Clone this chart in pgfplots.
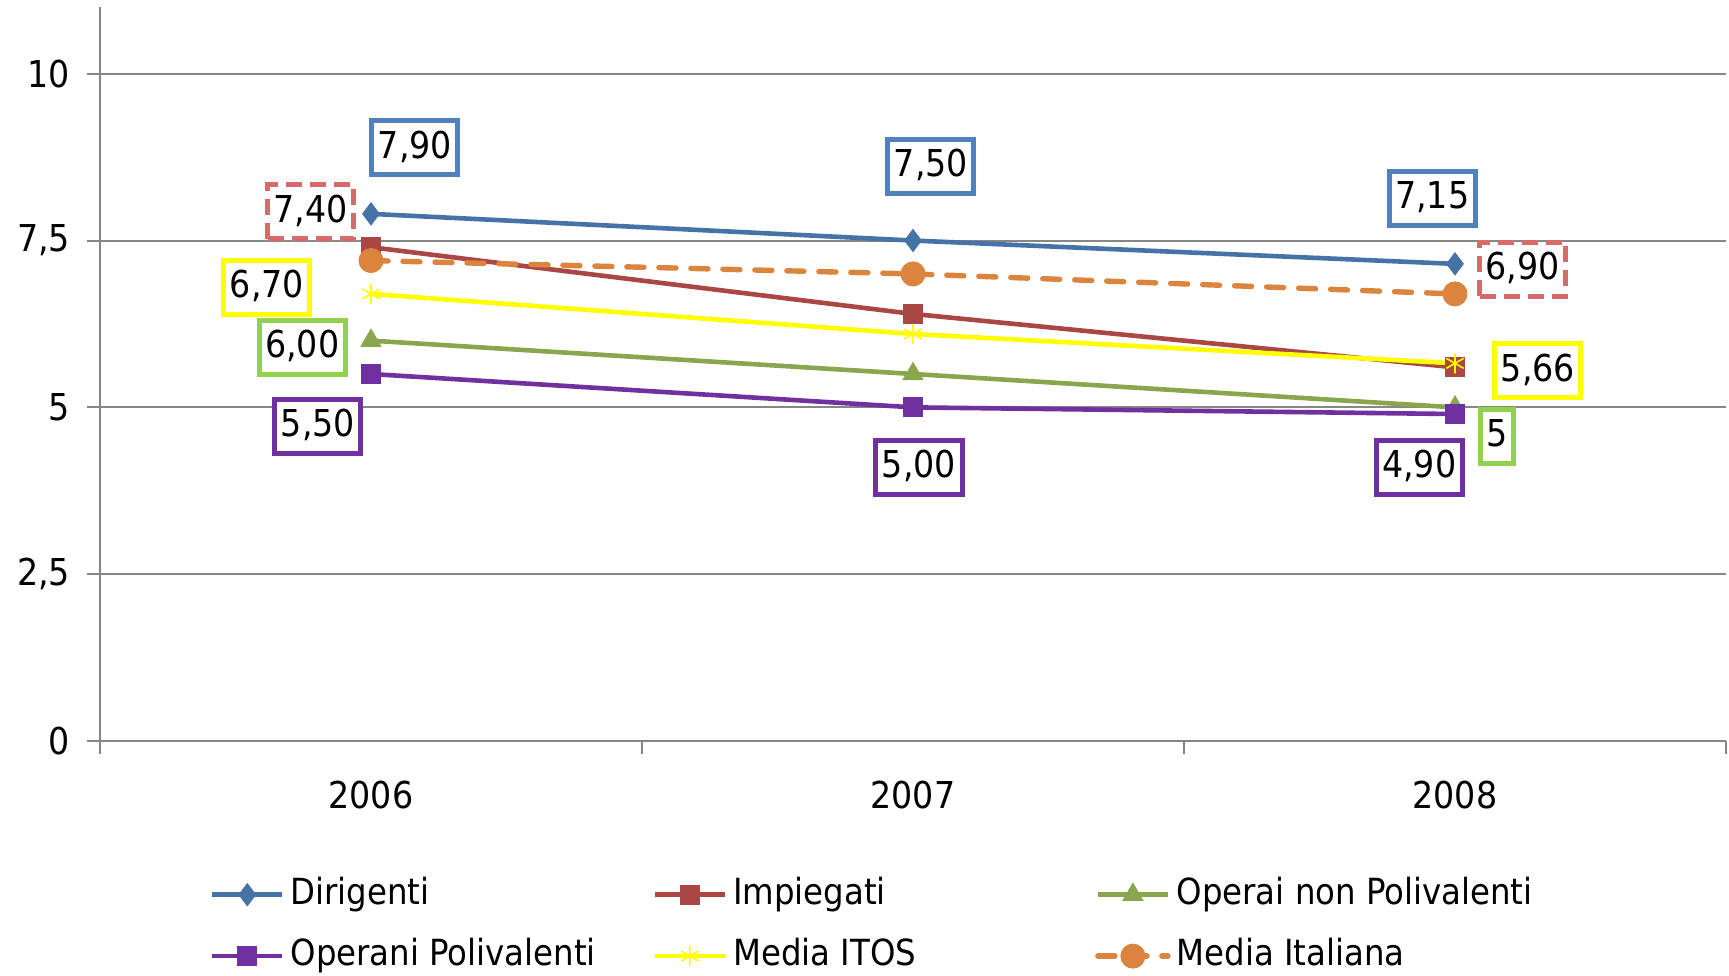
\documentclass[border=0pt]{standalone}
\usepackage{fontspec}
\setmainfont{DejaVu Sans Condensed}
\usepackage{pgfplots}
\pgfplotsset{compat=1.18}

\definecolor{gridgray}{HTML}{868686}
\definecolor{blueS}{HTML}{4572A7}
\definecolor{redS}{HTML}{AA4643}
\definecolor{greenS}{HTML}{89A54E}
\definecolor{purpleS}{HTML}{7030A0}
\definecolor{yellowS}{HTML}{FFFF00}
\definecolor{orangeS}{HTML}{DB843D}
\definecolor{blueL}{HTML}{4F81BD}
\definecolor{redL}{HTML}{D96A6A}
\definecolor{greenL}{HTML}{92D050}

\newcommand\bigfont{\fontsize{18.5}{22}\selectfont}
\newcommand\legfont{\fontsize{18}{21}\selectfont}
\tikzset{lab/.style={fill=white, line width=2.5pt, inner xsep=3pt, inner ysep=0pt,
    minimum height=27pt, text height=13.4pt, text depth=3pt, font=\bigfont}}

\begin{document}
\begin{tikzpicture}
\useasboundingbox (-50pt,-117pt) rectangle (814.5pt,370.5pt);
\begin{axis}[
  scale only axis, width=813pt, height=367pt,
  xmin=-0.5, xmax=2.5, ymin=0, ymax=11,
  clip=false,
  axis x line*=bottom, axis y line*=left,
  axis line style={draw=gridgray, line width=1pt, -},
  xtick={0,1,2}, xticklabels={2006,2007,2008},
  major x tick style={draw=none},
  minor xtick={-0.5,0.5,1.5,2.5},
  minor x tick style={draw=gridgray, line width=1pt},
  minor tick length=6.5pt,
  ytick={0,2.5,5,7.5,10},
  y tick style={draw=gridgray, line width=1pt},
  tick align=outside, major tick length=6.5pt,
  ymajorgrids, grid style={draw=gridgray, line width=1pt},
  /pgf/number format/.cd, use comma, assume math mode=true, /pgfplots/.cd,
  every tick label/.append style={font=\bigfont},
  yticklabel style={xshift=-5pt},
  xticklabel style={yshift=-10pt},
  legend columns=3,
  legend style={at={(0,0)}, anchor=north west, xshift=55pt, yshift=-68.5pt,
    draw=none, fill=none, inner sep=0pt, outer sep=0pt, row sep=14pt,
    nodes={inner sep=0pt, font=\legfont, text height=13.2pt, text depth=3.5pt},
    /tikz/every odd column/.append style={column sep=3pt}},
  legend image code/.code={\draw[mark repeat=2,mark phase=2,#1]
    plot coordinates {(0pt,0pt) (17.5pt,0pt) (35pt,0pt)};},
]
\addplot[blueS, line width=2.3pt, mark=diamond*, mark size=5.5pt,
  mark options={line width=0.5pt}]
  coordinates {(0,7.9) (1,7.5) (2,7.15)};
\addlegendentry{\makebox[181pt][l]{Dirigenti}}
\addplot[redS, line width=2.3pt, mark=square*, mark size=4.7pt,
  mark options={line width=0.5pt}]
  coordinates {(0,7.4) (1,6.4) (2,5.6)};
\addlegendentry{\makebox[181pt][l]{Impiegati}}
\addplot[greenS, line width=2.3pt, mark=triangle*, mark size=5.7pt,
  mark options={line width=0.5pt}]
  coordinates {(0,6.0) (1,5.5) (2,5.0)};
\addlegendentry{\makebox[181pt][l]{Operai non Polivalenti}}
\addplot[purpleS, line width=2.3pt, mark=square*, mark size=4.7pt,
  mark options={line width=0.5pt}]
  coordinates {(0,5.5) (1,5.0) (2,4.9)};
\addlegendentry{\makebox[181pt][l]{Operani Polivalenti}}
\addplot[yellowS, line width=2.3pt, mark=asterisk, mark size=5pt,
  mark options={line width=0.8pt}]
  coordinates {(0,6.7) (1,6.1) (2,5.66)};
\addlegendentry{\makebox[181pt][l]{Media ITOS}}
\addplot[orangeS, line width=2.7pt, line cap=round,
  dash pattern=on 8.5pt off 7.5pt, mark=*, mark size=6pt,
  mark options={solid, line width=0.5pt}]
  coordinates {(0,7.2) (1,7.0) (2,6.7)};
\addlegendentry{\makebox[181pt][l]{Media Italiana}}

% data labels
\node[lab, draw=blueL] at (axis cs:0.081,8.89) {7,90};
\node[lab, draw=redL, dash pattern=on 8pt off 4pt] at (axis cs:-0.111,7.93) {7,40};
\node[lab, draw=yellowS] at (axis cs:-0.192,6.80) {6,70};
\node[lab, draw=greenL] at (axis cs:-0.127,5.90) {6,00};
\node[lab, draw=purpleS] at (axis cs:-0.098,4.72) {5,50};
\node[lab, draw=blueL] at (axis cs:1.033,8.61) {7,50};
\node[lab, draw=purpleS] at (axis cs:1.011,4.10) {5,00};
\node[lab, draw=blueL] at (axis cs:1.958,8.13) {7,15};
\node[lab, draw=redL, dash pattern=on 8pt off 4pt] at (axis cs:2.125,7.07) {6,90};
\node[lab, draw=yellowS] at (axis cs:2.153,5.55) {5,66};
\node[lab, draw=greenL] at (axis cs:2.078,4.57) {5};
\node[lab, draw=purpleS] at (axis cs:1.934,4.10) {4,90};
\end{axis}
\end{tikzpicture}
\end{document}
